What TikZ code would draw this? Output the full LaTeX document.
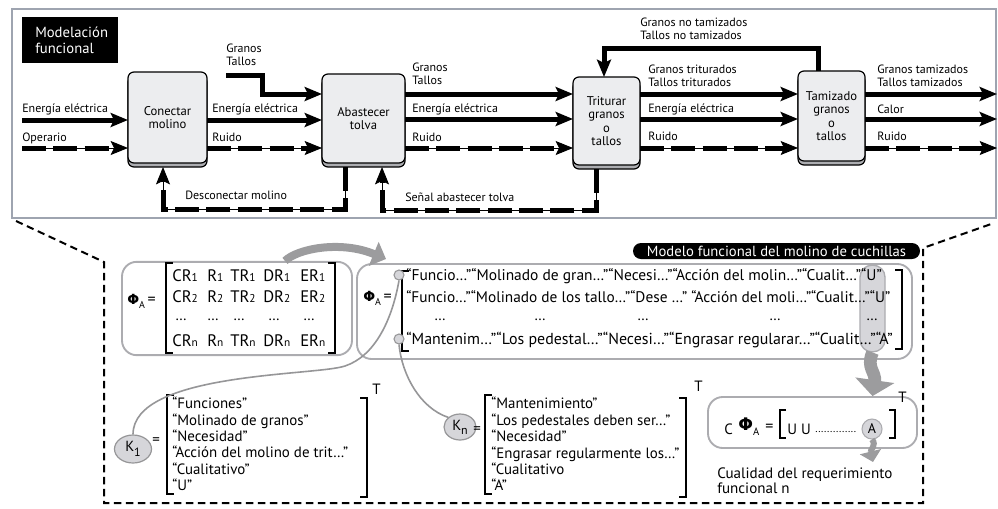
\documentclass[tikz,border=0pt]{standalone}
\usepackage{fontspec}
\setmainfont{PT Sans}
\newfontfamily\grkbold{DejaVu Sans Bold}
\usetikzlibrary{arrows.meta,shapes.geometric,calc,shadows}
\definecolor{frameblue}{RGB}{158,164,176}
\definecolor{blockfill}{RGB}{236,237,239}
\definecolor{blockshade}{RGB}{172,173,177}
\definecolor{panelgray}{RGB}{172,172,176}
\definecolor{hlgray}{RGB}{214,214,218}
\definecolor{arrowgray}{RGB}{156,156,158}
\definecolor{linegray}{RGB}{150,150,152}
\newcommand{\bphi}{{\grkbold Φ}}
\newcommand{\subix}[1]{{\fontsize{8.5}{8.5}\selectfont #1}}
\begin{document}
\begin{tikzpicture}[x=0.75pt,y=-0.75pt,
  flow/.style={line width=3.75pt, line join=miter, -{Stealth[length=13pt,width=10.5pt,inset=2.5pt]}},
  dflow/.style={line width=0.7pt, line join=miter, -{Stealth[length=13pt,width=10.5pt,inset=2.5pt]},
    postaction={draw, -, line width=3.75pt, dash pattern=on 18pt off 5.5pt, shorten >=9pt}},
  block/.style={draw, line width=0.9pt, fill=blockfill, rounded corners=4.5pt,
    inner sep=0pt, outer sep=0pt, align=center, font=\fontsize{9.5}{10.2}\selectfont,
    general shadow={shadow xshift=0pt, shadow yshift=-3pt, fill=blockshade, draw=black, line width=0.9pt}},
  lbl/.style={font=\fontsize{9}{9.9}\selectfont, inner sep=0pt, anchor=west, align=left},
  mtxt/.style={font=\fontsize{11.2}{12.3}\selectfont, inner sep=0pt, anchor=west, align=left},
  rowtxt/.style={font=\fontsize{12.5}{13}\selectfont, inner sep=0pt, anchor=west},
  panelbox/.style={draw=panelgray, line width=1.4pt, rounded corners=11pt, fill=white, inner sep=0pt},
  brk/.style={line width=1.8pt, line join=miter},
  zoomline/.style={line width=1.5pt, dash pattern=on 5.5pt off 3.5pt},
  gline/.style={draw=linegray, line width=1.2pt},
  dotc/.style={circle, fill=hlgray, draw=linegray, line width=0.8pt, minimum size=7.5pt, inner sep=0pt},
  kell/.style={ellipse, fill=hlgray, draw=linegray, line width=0.9pt, inner sep=0pt, font=\fontsize{11}{12}\selectfont},
  phitxt/.style={inner sep=0pt, anchor=west},
]
\useasboundingbox (0,0) rectangle (998,508);

% ---------- upper panel: functional model ----------
\node[draw=frameblue, line width=1.5pt, minimum width=738pt, minimum height=156.75pt, inner sep=0pt] (pnl) at (504,113.5) {};
\node[fill=black, minimum width=72pt, minimum height=34.5pt, inner sep=0pt] (ttl) at (70,40) {};
\node[font=\fontsize{11}{12}\selectfont, text=white, align=left, anchor=west, inner sep=0pt] (ttltxt) at (35,40) {Modelación\\funcional};

\node[block, minimum width=59.25pt, minimum height=68.25pt] (b1) at (167.5,117.5) {Conectar\\molino};
\node[block, minimum width=62.25pt, minimum height=66.75pt] (b2) at (363.5,118.5) {Abastecer\\tolva};
\node[block, minimum width=50.25pt, minimum height=66pt] (b3) at (606.5,121) {Triturar\\granos\\o\\tallos};
\node[block, minimum width=50.25pt, minimum height=67.5pt] (b4) at (831.5,116) {Tamizado\\granos\\o\\tallos};

\coordinate (inE) at (22,120);
\coordinate (inO) at (22,148);
\coordinate (inG) at (226,75);
\coordinate (oG) at (997,94);
\coordinate (oC) at (997,119);
\coordinate (oR) at (997,148);

\draw[flow] (inE) -- (inE -| b1.west);
\draw[dflow] (inO) -- (inO -| b1.west);
\draw[flow] (b1.east |- inE) -- (b2.west |- inE);
\draw[dflow] (b1.east |- inO) -- (b2.west |- inO);
\draw[flow] (inG) -- ++(36,0) |- (b2.west |- oG);
\draw[flow] (b2.east |- oG) -- (b3.west |- oG);
\draw[flow] (b2.east |- oC) -- (b3.west |- oC);
\draw[dflow] (b2.east |- oR) -- (b3.west |- oR);
\draw[flow] (b3.east |- oG) -- (b4.west |- oG);
\draw[flow] (b3.east |- oC) -- (b4.west |- oC);
\draw[dflow] (b3.east |- oR) -- (b4.west |- oR);
\draw[flow] (b4.east |- oG) -- (oG);
\draw[flow] (b4.east |- oC) -- (oC);
\draw[dflow] (b4.east |- oR) -- (oR);

% feedback loops
\coordinate (fbx) at (818,48);
\coordinate (fbl) at (604,48);
\draw[flow] (b4.north -| fbx) -- (fbx) -- (fbl) -- (b3.north -| fbl);
\coordinate (d1) at (345,209);
\coordinate (d2) at (163,209);
\draw[dflow] ($(b2.south -| d1)+(0,4)$) -- (d1) -- (d2) -- ($(b1.south -| d2)+(0,4)$);
\coordinate (s1) at (596,210);
\coordinate (s2) at (382,210);
\draw[dflow] ($(b3.south -| s1)+(0,4)$) -- (s1) -- (s2) -- ($(b2.south -| s2)+(0,4)$);

\node[lbl] (lE0) at (22,109) {Energía eléctrica};
\node[lbl] (lO0) at (22,138) {Operario};
\node[lbl] (lE1) at (212,109) {Energía eléctrica};
\node[lbl] (lR1) at (212,137) {Ruido};
\node[lbl] (lG0) at (226,55) {Granos\\Tallos};
\node[lbl] (lG2) at (412,74) {Granos\\Tallos};
\node[lbl] (lE2) at (412,109) {Energía eléctrica};
\node[lbl] (lR2) at (412,137) {Ruido};
\node[lbl] (lG3) at (648,76) {Granos triturados\\Tallos triturados};
\node[lbl] (lE3) at (648,109) {Energía eléctrica};
\node[lbl] (lR3) at (648,136) {Ruido};
\node[lbl] (lG4) at (877,76) {Granos tamizados\\Tallos tamizados};
\node[lbl] (lC4) at (877,109) {Calor};
\node[lbl] (lR4) at (877,136) {Ruido};
\node[lbl] (lF) at (640,29) {Granos no tamizados\\Tallos no tamizados};
\node[lbl] (lD) at (185,195) {Desconectar molino};
\node[lbl] (lS) at (405,197) {Señal abastecer tolva};

% ---------- lower panel: requirement matrices ----------
\coordinate (zl) at ($(pnl.south west)+(5,2)$);
\coordinate (zr) at ($(pnl.south east)+(-3,4)$);
\draw[zoomline] (zl) -- (104,262) -- (104,503) -- (923,503) -- (923,248) -- (zr);

\node[fill=black, text=white, rounded corners=6pt, minimum width=215.25pt, minimum height=12pt, inner sep=0pt, font=\fontsize{11}{12}\selectfont] (pill) at (776.5,251) {Modelo funcional del molino de cuchillas};

\node[panelbox, minimum width=172.5pt, minimum height=70pt] (mA) at (237,308.5) {};
\node[panelbox, minimum width=416.25pt, minimum height=71.25pt] (mB) at (634.5,311.5) {};
\node[fill=hlgray, draw=panelgray, line width=1pt, rounded corners=9pt, minimum width=18.75pt, minimum height=65pt, inner sep=0pt] (cap) at (872.5,308.5) {};

% matrix of requirement identifiers
\node[phitxt] (phA) at (127,301) {{\fontsize{10.5}{10.5}\selectfont\bphi}\raisebox{-3pt}{\fontsize{7.5}{7.5}\selectfont A}{\fontsize{12}{12}\selectfont\,=}};
\draw[brk] (173,263) -- (166,263) -- (166,353) -- (173,353);
\draw[brk] (328,263) -- (335,263) -- (335,353) -- (328,353);
\foreach \yy/\ss in {276/1, 297/2, 341/n} {
  \node[rowtxt] (cr\ss) at (172,\yy) {CR\subix{\ss}};
  \node[rowtxt] (r\ss) at (207,\yy) {R\subix{\ss}};
  \node[rowtxt] (tr\ss) at (230,\yy) {TR\subix{\ss}};
  \node[rowtxt] (dr\ss) at (263,\yy) {DR\subix{\ss}};
  \node[rowtxt] (er\ss) at (300,\yy) {ER\subix{\ss}};
}
\foreach \xx [count=\i] in {175,207,233,268,303} {
  \node[mtxt] (dA\i) at (\xx,320) {…};
}

% matrix of requirement texts
\node[phitxt] (phB) at (363,298) {{\fontsize{10.5}{10.5}\selectfont\bphi}\raisebox{-3pt}{\fontsize{7.5}{7.5}\selectfont A}{\fontsize{12}{12}\selectfont\,=}};
\draw[brk] (409,271) -- (402,271) -- (402,351) -- (409,351);
\draw[brk] (895,270) -- (902,270) -- (902,349) -- (895,349);
\node[rowtxt, font=\fontsize{11.6}{13}\selectfont] (rB1) at (406,276) {“Funcio…”“Molinado de gran…”“Necesi…”“Acción del molin…”“Cualit…”“U”};
\node[rowtxt, font=\fontsize{11.5}{13}\selectfont] (rB2) at (406,297) {“Funcio…”“Molinado de los tallo…”“Dese …” “Acción del moli…”“Cualit…”“U”};
\foreach \xx [count=\i] in {434,534,637,769,866} {
  \node[mtxt] (dB\i) at (\xx,320) {…};
}
\node[rowtxt, font=\fontsize{11.95}{13}\selectfont] (rB4) at (406,340) {“Mantenim…”“Los pedestal…”“Necesi…”“Engrasar regularar…”“Cualit…”“A”};
\node[dotc] (c1) at (399,275) {};
\node[dotc] (c4) at (399,339) {};

% transfer arrow between the two matrices
\coordinate (arcend) at (386,259);
\draw[draw=arrowgray, line width=6pt, -{Triangle[length=10pt,width=19pt]}] ($(mA.north)+(48,0)$) .. controls (297,249) and (340,240) .. (arcend);

% row vectors
\node[kell, minimum width=27.75pt, minimum height=21pt] (k1) at (133,449) {K\raisebox{-3.5pt}{\fontsize{9}{9}\selectfont 1}};
\node[mtxt] (eqk1) at (152,441) {=};
\draw[brk] (174,395) -- (167,395) -- (167,494) -- (174,494);
\node[mtxt] (k1v) at (172,444) {“Funciones”\\“Molinado de granos”\\“Necesidad”\\“Acción del molino de trit…”\\“Cualitativo”\\“U”};
\draw[brk] (360,398) -- (367,398) -- (367,497) -- (360,497);
\node[mtxt] (t1) at (372,389) {T};

\node[kell, minimum width=24pt, minimum height=19.5pt] (kn) at (460,427) {K\raisebox{-3pt}{\fontsize{9}{9}\selectfont n}};
\node[mtxt] (eqkn) at (473,430) {=};
\draw[brk] (492,395) -- (485,395) -- (485,494) -- (492,494);
\node[mtxt] (knv) at (491,444) {“Mantenimiento”\\“Los pedestales deben ser…”\\“Necesidad”\\“Engrasar regularmente los…”\\“Cualitativo\\“A”};
\draw[brk] (679,398) -- (686,398) -- (686,497) -- (679,497);
\node[mtxt] (tn) at (694,386) {T};

\draw[gline] (c1.south) .. controls (392,320) and (375,356) .. (345,366) .. controls (315,376) and (133,372) .. (k1.north);
\draw[gline] (c4.south) .. controls (402,375) and (420,408) .. (kn.north west);

% quality vector
\node[panelbox, minimum width=156.75pt, minimum height=38.25pt] (cbox) at (812.5,422.5) {};
\draw[draw=arrowgray, line width=9.5pt, -{Triangle[length=12pt,width=29pt]}] (cap.south) .. controls (866,368) and (876,372) .. (cap.south |- cbox.north);
\node[mtxt] (cC) at (724,429) {C};
\node[phitxt] (cphi) at (738,427) {{\fontsize{13}{13}\selectfont\bphi}\raisebox{-3.5pt}{\fontsize{8}{8}\selectfont A}};
\node[mtxt, font=\fontsize{12}{12}\selectfont] (ceq) at (765,428) {=};
\draw[brk] (786,410) -- (780,410) -- (780,438) -- (786,438);
\node[mtxt] (cuu) at (787,429) {U U};
\node[phitxt, font=\fontsize{8}{8}\selectfont] (cdots) at (815,432) {..............};
\node[circle, fill=hlgray, draw=panelgray, line width=0.8pt, minimum size=15pt, inner sep=0pt, font=\fontsize{10.5}{10.5}\selectfont] (cA) at (872,429) {A};
\draw[brk] (889,410) -- (895,410) -- (895,438) -- (889,438);
\node[mtxt] (cT) at (898,397) {T};
\coordinate (qtip) at (873,462);
\draw[draw=arrowgray, line width=4.5pt, -{Triangle[length=8pt,width=16pt]}] (cA.south) .. controls (877,445) and (870,450) .. (qtip);
\node[mtxt, font=\fontsize{11.3}{11.5}\selectfont] (qual) at (717,480.5) {Cualidad del requerimiento\\funcional n};
\end{tikzpicture}
\end{document}
